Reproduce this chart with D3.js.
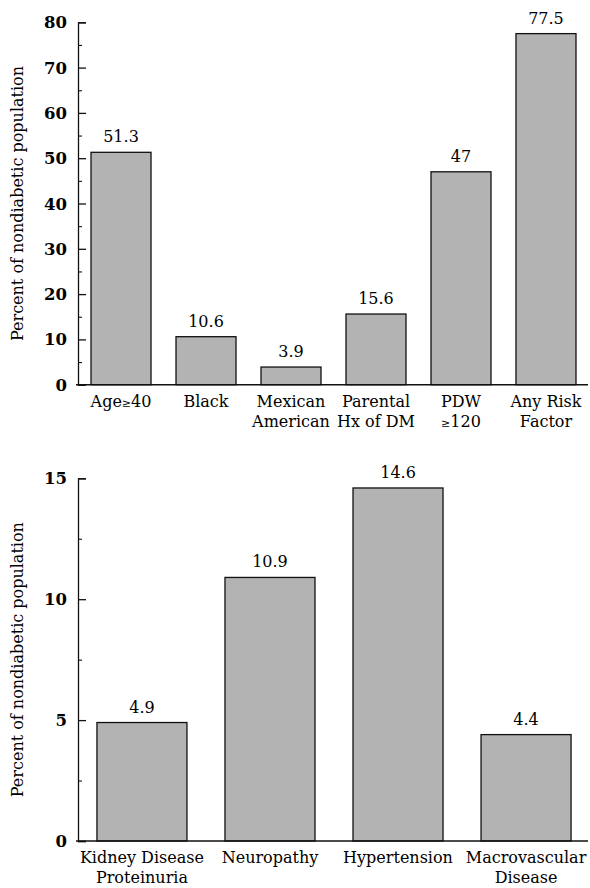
<!DOCTYPE html>
<html>
<head>
<meta charset="utf-8">
<script src="https://cdn.jsdelivr.net/npm/d3@7"></script>
<style>
  html, body { margin: 0; padding: 0; background: #fff; }
  svg { display: block; }
  text { font-family: "DejaVu Serif", serif; fill: #000; }
</style>
</head>
<body>
<svg id="chart" width="590" height="888"></svg>
<script>
// ---- Data ----
const topCategories = [["Age", "≥", "40"], ["Black"], ["Mexican", "American"], ["Parental", "Hx of DM"], ["PDW", "≥120"], ["Any Risk", "Factor"]];
const topKeys = ["Age≥40", "Black", "Mexican American", "Parental Hx of DM", "PDW ≥120", "Any Risk Factor"];
const topValues = [51.3, 10.6, 3.9, 15.6, 47, 77.5];
const topValueLabels = ["51.3", "10.6", "3.9", "15.6", "47", "77.5"];
const topTicks = [0, 10, 20, 30, 40, 50, 60, 70, 80];
const topMinorTicks = [5, 15, 25, 35, 45, 55, 65, 75];

const bottomKeys = ["Kidney Disease Proteinuria", "Neuropathy", "Hypertension", "Macrovascular Disease"];
const bottomLines = [["Kidney Disease", "Proteinuria"], ["Neuropathy"], ["Hypertension"], ["Macrovascular", "Disease"]];
const bottomValues = [4.9, 10.9, 14.6, 4.4];
const bottomValueLabels = ["4.9", "10.9", "14.6", "4.4"];
const bottomTicks = [0, 5, 10, 15];
const bottomMinorTicks = [2.5, 7.5, 12.5];

const yTitle = "Percent of nondiabetic population";

const svg = d3.select("#chart");

function drawPanel(cfg) {
  const g = svg.append("g");
  const x = d3.scaleBand().domain(cfg.keys).range([cfg.x0, cfg.x1])
    .paddingInner(cfg.pin).paddingOuter(cfg.pout);
  const y = d3.scaleLinear().domain([0, cfg.max]).range([cfg.yBottom, cfg.yTop]);

  // bars
  g.selectAll("rect.bar").data(cfg.values).join("rect")
    .attr("class", "bar")
    .attr("x", (d, i) => x(cfg.keys[i]))
    .attr("width", x.bandwidth())
    .attr("y", d => y(d))
    .attr("height", d => y(0) - y(d))
    .attr("fill", "#b3b3b3")
    .attr("stroke", "#111")
    .attr("stroke-width", 1.3);

  // value labels
  g.selectAll("text.val").data(cfg.values).join("text")
    .attr("class", "val")
    .attr("x", (d, i) => x(cfg.keys[i]) + x.bandwidth() / 2)
    .attr("y", d => y(d) - 10)
    .attr("text-anchor", "middle")
    .attr("font-size", 16)
    .text((d, i) => cfg.valueLabels[i]);

  // y axis (major ticks inward)
  const yAxis = d3.axisRight(y).tickValues(cfg.ticks).tickSize(8).tickFormat("");
  const ya = g.append("g").attr("transform", `translate(${cfg.x0},0)`).call(yAxis);
  ya.select(".domain").attr("stroke", "#111").attr("stroke-width", 1.3);
  ya.selectAll(".tick line").attr("stroke", "#111").attr("stroke-width", 1.3);
  const yMinor = d3.axisRight(y).tickValues(cfg.minor).tickSize(4).tickFormat("");
  const ym = g.append("g").attr("transform", `translate(${cfg.x0},0)`).call(yMinor);
  ym.select(".domain").remove();
  ym.selectAll(".tick line").attr("stroke", "#111").attr("stroke-width", 1.1);

  // tick labels
  g.selectAll("text.tick").data(cfg.ticks).join("text")
    .attr("class", "tick")
    .attr("x", cfg.x0 - 11)
    .attr("y", d => y(d) + 6)
    .attr("text-anchor", "end")
    .attr("font-size", 16.5)
    .attr("font-weight", "bold")
    .text(d => d);

  // x axis line
  const xAxis = d3.axisBottom(x).tickSize(0).tickFormat("");
  const xa = g.append("g").attr("transform", `translate(0,${y(0)})`).call(xAxis);
  xa.select(".domain").attr("stroke", "#111").attr("stroke-width", 1.5)
    .attr("d", `M${cfg.x0 - 2},0H${cfg.axisEnd}`);

  // category labels
  cfg.lines.forEach((lines, i) => {
    const cx = x(cfg.keys[i]) + x.bandwidth() / 2;
    const t = g.append("text")
      .attr("text-anchor", "middle")
      .attr("font-size", 16)
      .attr("x", cx)
      .attr("y", y(0) + 22);
    if (cfg.special && cfg.special[i]) {
      cfg.special[i](t, cx, y(0));
    } else {
      lines.forEach((ln, j) => {
        t.append("tspan").attr("x", cx).attr("dy", j === 0 ? 0 : 20).text(ln);
      });
    }
  });

  // y title
  g.append("text")
    .attr("transform", `translate(23,${(cfg.yTop + cfg.yBottom) / 2}) rotate(-90)`)
    .attr("text-anchor", "middle")
    .attr("font-size", 16)
    .text(yTitle);
}

const small = 11;
drawPanel({
  keys: topKeys, values: topValues, valueLabels: topValueLabels,
  lines: topCategories,
  x0: 78, x1: 589, pin: 0.294, pout: 0.153, axisEnd: 588,
  max: 80, yBottom: 384.7, yTop: 22.3,
  ticks: topTicks, minor: topMinorTicks,
  special: {
    0: (t) => {
      t.append("tspan").text("Age");
      t.append("tspan").attr("font-size", small).text("≥");
      t.append("tspan").text("40");
    },
    4: (t, cx) => {
      t.append("tspan").attr("x", cx).text("PDW");
      const s = t.append("tspan").attr("x", cx).attr("dy", 20);
      s.append("tspan").attr("font-size", small).text("≥");
      s.append("tspan").text("120");
    }
  }
});

drawPanel({
  keys: bottomKeys, values: bottomValues, valueLabels: bottomValueLabels,
  lines: bottomLines,
  x0: 78, x1: 590, pin: 0.297, pout: 0.148, axisEnd: 588,
  max: 15, yBottom: 841, yTop: 478.3,
  ticks: bottomTicks, minor: bottomMinorTicks
});
</script>
</body>
</html>
